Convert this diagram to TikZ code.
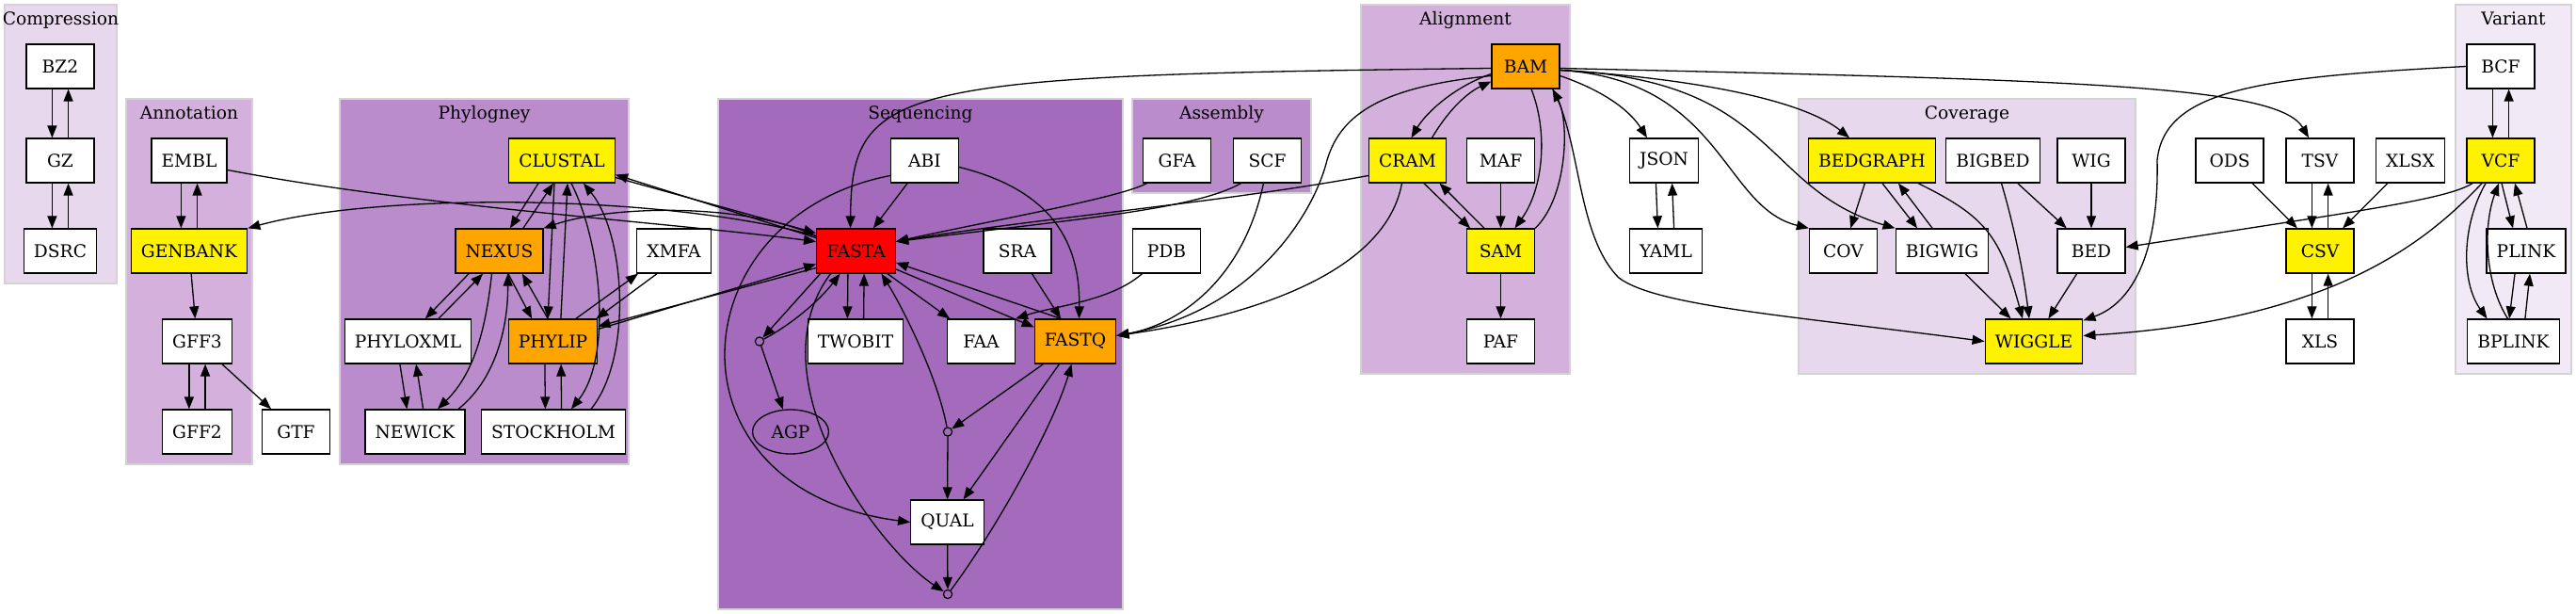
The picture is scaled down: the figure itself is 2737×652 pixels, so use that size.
\documentclass[tikz,border=0pt]{standalone}
\usepackage{fontspec}
\setmainfont{DejaVu Serif}
\usepackage{tikz}
\usetikzlibrary{arrows.meta,shapes.geometric}
\definecolor{grpvar}{HTML}{F2E9F6}
\definecolor{grplight}{HTML}{E8D8EE}
\definecolor{grpmid}{HTML}{D4B1DC}
\definecolor{grpdeep}{HTML}{BA8CCC}
\definecolor{grpseq}{HTML}{A46ABC}
\definecolor{grpedge}{HTML}{D3D3D3}
\definecolor{fmtorange}{HTML}{FFA500}

\begin{document}
\begin{tikzpicture}[
  x=0.5pt, y=-0.5pt,
  font=\fontsize{9.33}{11}\selectfont,
  fmt/.style={draw, fill=white, line width=0.65pt, minimum width=36pt, minimum height=23.5pt,
              inner xsep=5.3pt, inner ysep=0pt},
  hub/.style={fmt, fill=yellow},
  major/.style={fmt, fill=fmtorange},
  central/.style={fmt, fill=red},
  junction/.style={draw, circle, minimum size=4.6pt, inner sep=0pt, line width=0.6pt},
  group/.style={draw=grpedge, line width=0.7pt},
  gtitle/.style={anchor=base, inner sep=0pt},
  conv/.style={-{Triangle[length=6.5pt,width=5pt]}, line width=0.65pt},
]
\useasboundingbox (0,0) rectangle (2737,652);
\def\ra{70.5} \def\rb{170.5} \def\rc{266.5} \def\rd{362.5} \def\re{458.5}
% groups
\draw[group, fill=grplight] (5,5) rectangle (124,301);
\draw[group, fill=grpmid] (134,105) rectangle (268,493);
\draw[group, fill=grpdeep] (361,105) rectangle (668,493);
\draw[group, fill=grpseq] (763,105) rectangle (1193,647);
\draw[group, fill=grpdeep] (1203,105) rectangle (1393,205);
\draw[group, fill=grpmid] (1446,5) rectangle (1668,397);
\draw[group, fill=grplight] (1911,105) rectangle (2269,397);
\draw[group, fill=grpvar] (2609,5) rectangle (2732,397);
\node[gtitle] (tcomp) at (64.5,27) {Compression};
\node[gtitle] (tanno) at (201,127) {Annotation};
\node[gtitle] (tphylo) at (514.5,127) {Phylogney};
\node[gtitle] (tseq) at (978,127) {Sequencing};
\node[gtitle] (tasm) at (1298,127) {Assembly};
\node[gtitle] (taln) at (1557,27) {Alignment};
\node[gtitle] (tcov) at (2090,127) {Coverage};
\node[gtitle] (tvar) at (2670.5,27) {Variant};

\node[fmt] (bz2) at (64,\ra) {BZ2};
\node[fmt] (gz) at (64,\rb) {GZ};
\node[fmt] (dsrc) at (64,\rc) {DSRC};
\node[fmt] (embl) at (201,\rb) {EMBL};
\node[hub] (genbank) at (201,\rc) {GENBANK};
\node[fmt] (gff3) at (209.5,\rd) {GFF3};
\node[fmt] (gff2) at (209.5,\re) {GFF2};
\node[fmt] (gtf) at (314.5,\re) {GTF};
\node[hub] (clustal) at (597,\rb) {CLUSTAL};
\node[major] (nexus) at (530.5,\rc) {NEXUS};
\node[fmt] (xmfa) at (716,\rc) {XMFA};
\node[fmt] (phyloxml) at (433.5,\rd) {PHYLOXML};
\node[major] (phylip) at (587.5,\rd) {PHYLIP};
\node[fmt] (newick) at (441,\re) {NEWICK};
\node[fmt] (stockholm) at (588,\re) {STOCKHOLM};
\node[fmt] (abi) at (982.5,\rb) {ABI};
\node[central] (fasta) at (909.5,\rc) {FASTA};
\node[fmt] (sra) at (1081,\rc) {SRA};
\node[fmt] (twobit) at (909,\rd) {TWOBIT};
\node[fmt] (faa) at (1042.5,\rd) {FAA};
\node[major] (fastq) at (1142.5,\rd) {FASTQ};
\node[junction] (j1) at (807,\rd) {};
\node[draw, ellipse, line width=0.65pt, minimum width=40.5pt, minimum height=23.5pt, inner sep=0pt] (agp) at (840,\re) {AGP};
\node[junction] (j2) at (1007,\re) {};
\node[fmt] (qual) at (1006.5,554.5) {QUAL};
\node[junction] (j3) at (1007,631) {};
\node[fmt] (gfa) at (1250.5,\rb) {GFA};
\node[fmt] (scf) at (1346.5,\rb) {SCF};
\node[fmt] (pdb) at (1239.5,\rc) {PDB};
\node[major] (bam) at (1621,\ra) {BAM};
\node[hub] (cram) at (1495.5,\rb) {CRAM};
\node[fmt] (maf) at (1594.5,\rb) {MAF};
\node[hub] (sam) at (1594.5,\rc) {SAM};
\node[fmt] (paf) at (1594.5,\rd) {PAF};
\node[fmt] (json) at (1768,\rb) {JSON};
\node[fmt] (yaml) at (1770,\rc) {YAML};
\node[hub] (bedgraph) at (1989,\rb) {BEDGRAPH};
\node[fmt] (bigbed) at (2117.5,\rb) {BIGBED};
\node[fmt] (wig) at (2222,\rb) {WIG};
\node[fmt] (cov) at (1958.5,\rc) {COV};
\node[fmt] (bigwig) at (2063.5,\rc) {BIGWIG};
\node[fmt] (bed) at (2222,\rc) {BED};
\node[hub] (wiggle) at (2161,\rd) {WIGGLE};
\node[fmt] (ods) at (2369,\rb) {ODS};
\node[fmt] (tsv) at (2465,\rb) {TSV};
\node[fmt] (xlsx) at (2561,\rb) {XLSX};
\node[hub] (csv) at (2465,\rc) {CSV};
\node[fmt] (xls) at (2465,\rd) {XLS};
\node[fmt] (bcf) at (2657,\ra) {BCF};
\node[hub] (vcf) at (2657,\rb) {VCF};
\node[fmt] (plink) at (2684,\rc) {PLINK};
\node[fmt] (bplink) at (2670.5,\rd) {BPLINK};

% two-way vertical conversions
\foreach \a/\b in {bz2/gz,gz/dsrc,embl/genbank,gff3/gff2,phyloxml/newick,phylip/stockholm,fasta/twobit,json/yaml,tsv/csv,csv/xls,bcf/vcf} {
  \draw[conv] ([xshift=-4.3pt]\a.south) -- ([xshift=-4.3pt]\b.north);
  \draw[conv] ([xshift=4.3pt]\b.north) -- ([xshift=4.3pt]\a.south);
}
\foreach \a/\b in {genbank/gff3,gff3/gtf,abi/fasta,fasta/faa,sra/fastq,maf/sam,sam/paf,j2/qual,qual/j3,fastq/qual,fastq/j2,j1/agp,
                   bigbed/bed,wig/bed,bed/wiggle,bigwig/wiggle,bedgraph/cov,ods/csv,xlsx/csv}
  \draw[conv] (\a) -- (\b);

% annotation / phylogeny
\draw[conv] ([yshift=-5pt]embl.east) .. controls (450,220) and (700,235) .. ([yshift=5pt]fasta.west);
\draw[conv] ([yshift=8pt]fasta.west) .. controls (700,205) and (400,205) .. (genbank.north east);
\draw[conv] ([yshift=8pt]fasta.west) .. controls (790,215) and (650,218) .. (nexus.north east);
\draw[conv] ([yshift=-9pt]clustal.east) -- ([yshift=9.5pt]fasta.west);
\draw[conv] ([yshift=7pt]fasta.west) -- ([yshift=-7.5pt]clustal.east);
\draw[conv] ([yshift=6.5pt]phylip.east) -- ([yshift=-7pt]fasta.west);
\draw[conv] ([yshift=-9pt]fasta.west) -- ([yshift=8pt]phylip.east);
\draw[conv] ([xshift=-12.5pt]clustal.south) -- ([xshift=5.7pt]nexus.north);
\draw[conv] ([xshift=12.7pt]nexus.north) -- ([xshift=-4.5pt]clustal.south);
\draw[conv] ([xshift=-4pt]clustal.south) -- ([xshift=-2.7pt]phylip.north);
\draw[conv] ([xshift=4.2pt]phylip.north) -- ([xshift=3pt]clustal.south);
\draw[conv] ([xshift=5pt]clustal.south) .. controls (640,260) and (650,380) .. ([xshift=9.5pt]stockholm.north);
\draw[conv] ([xshift=20pt]stockholm.north) .. controls (672,380) and (665,250) .. ([xshift=11.5pt]clustal.south);
\draw[conv] ([xshift=-16.2pt]nexus.south) -- ([xshift=9.2pt]phyloxml.north);
\draw[conv] ([xshift=16.2pt]phyloxml.north) -- ([xshift=-8.7pt]nexus.south);
\draw[conv] ([xshift=-4pt]nexus.south) .. controls (515,360) and (500,400) .. ([xshift=12pt]newick.north);
\draw[conv] ([xshift=23pt]newick.north) .. controls (530,400) and (540,340) .. ([xshift=4.5pt]nexus.south);
\draw[conv] ([xshift=4.7pt]nexus.south) -- ([xshift=-11.2pt]phylip.north);
\draw[conv] ([xshift=-2.7pt]phylip.north) -- ([xshift=12.2pt]nexus.south);
\draw[conv] ([xshift=12.2pt]phylip.north) -- ([xshift=-19pt]xmfa.south);
\draw[conv] ([xshift=-9pt]xmfa.south) -- ([xshift=-1pt]phylip.north east);

% sequencing
\draw[conv] ([yshift=-3.5pt]abi.east) .. controls (1110,200) and (1148,250) .. ([xshift=2pt]fastq.north);
\draw[conv] ([yshift=-8pt]abi.west) .. controls (720,230) and (700,520) .. (qual.west);
\draw[conv] ([yshift=-9.7pt]fasta.east) -- ([yshift=-4.5pt]fastq.north west);
\draw[conv] ([xshift=-7.7pt]fastq.north) -- ([yshift=-6.2pt]fasta.east);
\draw[conv] ([xshift=-19pt]fasta.south) -- (j1);
\draw[conv] (j1) .. controls (840,345) and (870,320) .. ([xshift=-8.5pt]fasta.south);
\draw[conv] (j2) .. controls (995,395) and (955,320) .. ([xshift=13.5pt]fasta.south);
\draw[conv] ([xshift=-13.5pt]fasta.south) .. controls (800,400) and (930,580) .. (j3);
\draw[conv] (j3) .. controls (1060,560) and (1120,450) .. ([xshift=-2pt]fastq.south);
\draw[conv] ([xshift=-13pt]pdb.south) .. controls (1180,320) and (1120,325) .. (faa.north east);
\draw[conv] ([xshift=-16pt]gfa.south) .. controls (1190,210) and (1050,235) .. ([yshift=5pt]fasta.east);
\draw[conv] ([xshift=-14pt]scf.south) .. controls (1270,222) and (1150,232) .. ([yshift=5pt]fasta.east);
\draw[conv] ([yshift=-8pt]cram.west) .. controls (1300,215) and (1100,232) .. ([yshift=5pt]fasta.east);
\draw[conv] ([yshift=-1pt]bam.west) .. controls (950,80) and (905,90) .. ([xshift=-3pt]fasta.north);
\draw[conv] ([yshift=-5pt]bam.west) .. controls (1470,92) and (1425,120) .. (1410,170)
            .. controls (1395,230) and (1330,330) .. ([yshift=3pt]fastq.east);
\draw[conv] ([xshift=-2pt]scf.south) .. controls (1320,300) and (1250,345) .. ([yshift=3pt]fastq.east);
\draw[conv] ([xshift=-3pt]cram.south) .. controls (1470,300) and (1300,340) .. ([yshift=3pt]fastq.east);

% alignment
\draw[conv] ([yshift=-4pt]bam.west) .. controls (1545,92) and (1515,120) .. ([xshift=2pt]cram.north);
\draw[conv] ([xshift=13pt]cram.north) .. controls (1540,115) and (1560,98) .. ([yshift=-8pt]bam.west);
\draw[conv] ([xshift=3pt]bam.south) .. controls (1645,140) and (1640,200) .. ([xshift=7.5pt]sam.north);
\draw[conv] (sam.north east) .. controls (1665,210) and (1668,130) .. ([xshift=-4pt]bam.south east);
\draw[conv] ([xshift=8.7pt]cram.south) -- ([xshift=-16.2pt]sam.north);
\draw[conv] ([xshift=-8.7pt]sam.north) -- ([xshift=17pt]cram.south);
\draw[conv] ([yshift=-5pt]bam.east) .. controls (1700,95) and (1730,115) .. ([xshift=-9pt]json.north);
\draw[conv] ([yshift=-2pt]bam.east) .. controls (1820,85) and (1920,110) .. ([xshift=-12pt]bedgraph.north);
\draw[conv] ([yshift=-2pt]bam.east) .. controls (1830,85) and (1830,220) .. (cov.north west);
\draw[conv] ([yshift=-2pt]bam.east) .. controls (1890,85) and (1870,200) .. (bigwig.north west);
\draw[conv] ([yshift=-1pt]bam.east) .. controls (2200,85) and (2420,90) .. ([xshift=-6pt]tsv.north);
\draw[conv] ([xshift=-4pt]bam.south east) .. controls (1680,150) and (1675,250) .. (1720,295)
            .. controls (1760,325) and (1900,335) .. (wiggle.west);

% coverage
\draw[conv] ([xshift=5.5pt]bedgraph.south) -- ([xshift=-13.2pt]bigwig.north);
\draw[conv] ([xshift=-5.2pt]bigwig.north) -- ([xshift=14pt]bedgraph.south);
\draw[conv] ([xshift=24.5pt]bedgraph.south) .. controls (2110,230) and (2125,250) .. ([xshift=-6pt]wiggle.north);
\draw[conv] ([xshift=4.5pt]bigbed.south) .. controls (2140,240) and (2150,290) .. ([xshift=-2.5pt]wiggle.north);

% variant
\draw[conv] ([xshift=0.5pt]vcf.south) -- ([xshift=-7pt]plink.north);
\draw[conv] ([xshift=0.5pt]plink.north) -- ([xshift=7.5pt]vcf.south);
\draw[conv] ([xshift=-6pt]plink.south) -- ([xshift=-2.2pt]bplink.north);
\draw[conv] ([xshift=6.2pt]bplink.north) -- ([xshift=2pt]plink.south);
\draw[conv] ([xshift=-8pt]vcf.south) .. controls (2615,240) and (2615,300) .. ([xshift=-14pt]bplink.north);
\draw[conv] ([xshift=-3pt]bplink.north) .. controls (2640,300) and (2638,240) .. ([xshift=-1pt]vcf.south);
\draw[conv] ([xshift=-15pt]vcf.south) .. controls (2600,212) and (2500,225) .. ([yshift=2pt]bed.east);
\draw[conv] ([xshift=-10pt]vcf.south) .. controls (2580,255) and (2480,340) .. ([yshift=3pt]wiggle.east);
\draw[conv] (bcf.west) .. controls (2400,82) and (2300,95) .. (2292,170)
            .. controls (2294,260) and (2270,320) .. ([yshift=-1pt]wiggle.north east);
\end{tikzpicture}
\end{document}
